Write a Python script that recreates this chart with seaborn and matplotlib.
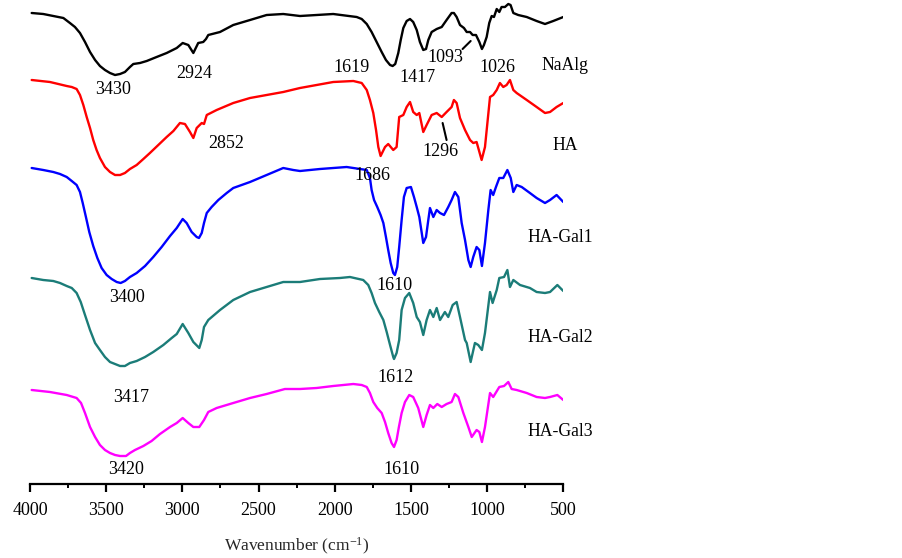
import numpy as np
import pandas as pd
import matplotlib
matplotlib.use("Agg")
import matplotlib.pyplot as plt
import seaborn as sns
from matplotlib.ticker import MultipleLocator

# ---------------- data (wavenumber in cm-1, stacked transmittance a.u.) ----------------
naalg_wn = [3989, 3913, 3847, 3781, 3738, 3705, 3672, 3639, 3606, 3573, 3541, 3508, 3475, 3442,
            3409, 3377, 3344, 3322, 3278, 3234, 3169, 3103, 3037, 2998, 2961, 2928, 2896, 2863,
            2845, 2830, 2753, 2666, 2556, 2447, 2338, 2228, 2119, 2010, 1856, 1823, 1790, 1758,
            1725, 1692, 1664, 1637, 1620, 1603, 1583, 1567, 1550, 1528, 1506, 1485, 1462, 1441,
            1419, 1401, 1386, 1364, 1331, 1298, 1266, 1233, 1218, 1200, 1178, 1152, 1134, 1112,
            1095, 1073, 1051, 1034, 1021, 1003, 986, 970, 955, 937, 920, 905, 883, 861, 846, 828,
            796, 740, 675, 620, 566, 500]
naalg_t = [471, 470, 468, 466, 461, 457, 451, 442, 432, 424, 418, 414, 411, 409,
           410, 412, 417, 420, 421, 423, 427, 431, 436, 441, 439, 431, 441, 442,
           445, 449, 452, 459, 464, 469, 470, 468, 469, 470, 467, 465, 460, 452,
           442, 432, 424, 419, 418, 420, 431, 444, 456, 463, 465, 462, 454, 442,
           434, 435, 444, 452, 455, 457, 464, 471, 471, 467, 459, 456, 452, 452,
           449, 449, 442, 435, 439, 447, 461, 468, 467, 475, 472, 477, 477, 480, 479, 471,
           469, 467, 463, 460, 463, 467]

ha_wn = [3989, 3869, 3759, 3726, 3694, 3672, 3650, 3628, 3606, 3585, 3563, 3541, 3508, 3475,
         3442, 3409, 3377, 3344, 3300, 3256, 3213, 3158, 3103, 3059, 3016, 2983, 2950, 2928,
         2906, 2873, 2858, 2840, 2775, 2666, 2556, 2447, 2338, 2228, 2119, 2010, 1878, 1823,
         1790, 1769, 1747, 1729, 1714, 1699, 1670, 1649, 1616, 1594, 1577, 1550, 1528, 1506,
         1485, 1462, 1445, 1419, 1397, 1364, 1331, 1298, 1266, 1233, 1218, 1200, 1178, 1145,
         1112, 1091, 1069, 1036, 1014, 981, 960, 937, 916, 894, 872, 850, 828, 806, 740, 675,
         620, 587, 544, 500]
ha_t = [404, 402, 398, 397, 395, 389, 379, 367, 356, 344, 334, 326, 317, 312,
        309, 309, 311, 315, 319, 325, 331, 339, 347, 353, 361, 360, 352, 346,
        356, 361, 360, 369, 374, 381, 386, 389, 392, 396, 399, 402, 403, 401,
        394, 384, 371, 354, 337, 328, 337, 340, 334, 337, 367, 369, 377, 382,
        372, 369, 371, 352, 359, 369, 371, 367, 372, 377, 384, 381, 366, 354,
        344, 341, 342, 324, 337, 387, 389, 394, 401, 397, 399, 404, 394, 391, 384, 377,
        371, 372, 377, 381]

gal1_wn = [3989, 3913, 3847, 3803, 3759, 3726, 3694, 3672, 3654, 3633, 3611, 3585, 3558, 3530,
           3497, 3464, 3431, 3405, 3377, 3344, 3300, 3245, 3191, 3136, 3081, 3037, 2998, 2972,
           2939, 2906, 2891, 2873, 2858, 2840, 2808, 2764, 2709, 2666, 2556, 2447, 2338, 2272,
           2228, 2097, 1922, 1790, 1769, 1758, 1742, 1721, 1699, 1681, 1664, 1649, 1633, 1616,
           1605, 1590, 1577, 1561, 1546, 1528, 1500, 1480, 1462, 1445, 1429, 1419, 1401, 1386,
           1375, 1353, 1331, 1309, 1283, 1255, 1233, 1211, 1189, 1167, 1145, 1123, 1108, 1091,
           1069, 1051, 1034, 1014, 992, 977, 960, 942, 920, 894, 867, 845, 828, 806, 773, 719,
           675, 620, 587, 544, 500]
gal1_t = [316, 314, 312, 310, 307, 303, 299, 292, 281, 267, 252, 238, 226, 216,
          209, 205, 202, 201, 203, 207, 211, 218, 227, 237, 248, 256, 265, 261,
          252, 247, 246, 251, 261, 271, 277, 284, 291, 296, 302, 309, 316, 314,
          313, 315, 317, 314, 306, 294, 284, 277, 269, 261, 247, 234, 221, 211,
          209, 217, 237, 264, 287, 296, 297, 287, 277, 267, 251, 241, 247, 264,
          276, 267, 274, 271, 269, 277, 284, 292, 287, 261, 244, 224, 217, 227,
          237, 234, 218, 241, 274, 294, 289, 297, 306, 306, 314, 306, 292, 299, 297, 291,
          286, 281, 284, 289, 282]

gal2_wn = [3989, 3913, 3847, 3803, 3759, 3726, 3694, 3667, 3639, 3606, 3573, 3541, 3508, 3475,
           3442, 3409, 3377, 3344, 3300, 3245, 3191, 3125, 3070, 3037, 2998, 2961, 2928, 2889,
           2873, 2858, 2830, 2753, 2666, 2556, 2447, 2338, 2228, 2097, 1966, 1900, 1813, 1780,
           1758, 1736, 1708, 1681, 1659, 1637, 1616, 1611, 1594, 1577, 1561, 1539, 1511, 1485,
           1462, 1441, 1419, 1397, 1375, 1353, 1331, 1309, 1277, 1255, 1226, 1200, 1178, 1145,
           1134, 1108, 1080, 1058, 1034, 1014, 981, 964, 937, 920, 889, 867, 850, 828, 784, 719,
           675, 620, 587, 539, 500]
gal2_t = [206, 204, 203, 201, 198, 196, 191, 182, 169, 154, 141, 134, 127, 122,
          120, 118, 118, 121, 123, 127, 132, 139, 146, 150, 160, 151, 142, 136,
          144, 157, 164, 174, 184, 192, 197, 202, 202, 205, 206, 207, 204, 199,
          191, 181, 172, 164, 152, 139, 127, 125, 131, 144, 174, 186, 191, 181,
          167, 162, 149, 164, 174, 167, 176, 164, 172, 167, 179, 182, 167, 144,
          141, 122, 141, 139, 134, 151, 192, 181, 194, 206, 207, 214, 197, 204, 199, 196,
          192, 191, 192, 199, 193]

gal3_wn = [3989, 3869, 3759, 3694, 3665, 3639, 3606, 3573, 3541, 3508, 3475, 3442, 3409, 3370,
           3344, 3311, 3256, 3202, 3147, 3081, 3037, 2998, 2961, 2928, 2889, 2858, 2830, 2775,
           2666, 2556, 2447, 2327, 2228, 2119, 2010, 1878, 1823, 1790, 1769, 1747, 1721, 1692,
           1670, 1649, 1627, 1611, 1594, 1579, 1561, 1539, 1511, 1485, 1452, 1419, 1397, 1375,
           1353, 1327, 1298, 1266, 1233, 1211, 1189, 1156, 1123, 1101, 1069, 1051, 1034, 1014,
           981, 960, 920, 889, 861, 839, 806, 740, 675, 620, 587, 539, 500]
gal3_t = [94, 92, 89, 86, 81, 71, 57, 47, 39, 34, 31, 29, 28, 28,
          31, 34, 38, 43, 50, 57, 61, 66, 61, 57, 57, 64, 72, 76,
          81, 86, 90, 95, 95, 96, 98, 100, 99, 97, 91, 82, 76, 71,
          62, 51, 41, 37, 44, 57, 71, 82, 89, 87, 76, 57, 69, 79,
          76, 80, 77, 80, 82, 90, 87, 71, 57, 47, 54, 52, 42, 57,
          91, 87, 97, 98, 102, 95, 94, 91, 87, 86, 87, 89, 84]

samples = ["NaAlg", "HA", "HA-Gal1", "HA-Gal2", "HA-Gal3"]
colors = ["#000000", "#FF0000", "#0000FF", "#1B7C78", "#FF00FF"]
x_ticks = [4000, 3500, 3000, 2500, 2000, 1500, 1000, 500]

# peak annotations: (text, wavenumber position, level)
peak_labels = [("3430", 3455, 394), ("2924", 2924, 410), ("1619", 1887, 417), ("1417", 1460, 406),
               ("1093", 1277, 427), ("1026", 935, 417),
               ("2852", 2714, 341), ("1296", 1309, 332), ("1686", 1756, 309),
               ("3400", 3363, 187), ("1610", 1605, 198),
               ("3417", 3337, 86), ("1612", 1598, 106),
               ("3420", 3370, 15), ("1610", 1565, 15)]
name_labels = [("NaAlg", 640, 419), ("HA", 574, 339), ("HA-Gal1", 732, 247),
               ("HA-Gal2", 732, 147), ("HA-Gal3", 732, 52)]
leader_lines = [([1161, 1108], [435, 443]), ([1292, 1266], [361, 344])]

# ---------------- build frame ----------------
frames = []
for name, wn, t in zip(samples,
                       [naalg_wn, ha_wn, gal1_wn, gal2_wn, gal3_wn],
                       [naalg_t, ha_t, gal1_t, gal2_t, gal3_t]):
    frames.append(pd.DataFrame({"wn": wn, "t": t, "sample": name}))
df = pd.concat(frames, ignore_index=True)

# ---------------- plot ----------------
sns.set_style("white")
plt.rcParams["font.family"] = ["Liberation Serif", "DejaVu Serif"]
plt.rcParams["mathtext.fontset"] = "custom"
plt.rcParams["mathtext.rm"] = "Liberation Serif"
plt.rcParams["mathtext.it"] = "Liberation Serif:italic"

fig = plt.figure(figsize=(9.03, 5.58), dpi=100)
ax = fig.add_axes([30 / 903, 74 / 558, 533.3 / 903, 484 / 558])

sns.lineplot(data=df, x="wn", y="t", hue="sample", palette=dict(zip(samples, colors)),
             estimator=None, sort=False, legend=False, linewidth=1.7, ax=ax)
for line in ax.lines:
    line.set_solid_joinstyle("round")

ax.set_xlim(4000, 500)
ax.set_ylim(0, 484)
ax.set_xticks(x_ticks)
ax.set_xticklabels([str(v) for v in x_ticks])
ax.xaxis.set_minor_locator(MultipleLocator(250))
ax.set_yticks([])
ax.set_ylabel("")
for s in ["left", "top", "right"]:
    ax.spines[s].set_visible(False)
ax.spines["bottom"].set_linewidth(1.6)
ax.spines["bottom"].set_color("black")
ax.tick_params(axis="x", which="major", direction="out", length=6, width=1.6,
               labelsize=13, pad=7, colors="black", bottom=True)
ax.tick_params(axis="x", which="minor", direction="out", length=3, width=1.4,
               colors="black", bottom=True)
ax.set_xlabel(r"Wavenumber (cm$^{\mathrm{-1}}$)", fontsize=12.5, labelpad=12)

for txt, xw, yv in peak_labels:
    ax.text(xw, yv, txt, ha="center", va="center", fontsize=13, color="black")
for txt, xw, yv in name_labels:
    ax.text(xw, yv, txt, ha="left", va="center", fontsize=12.7, color="black", clip_on=False)
for xs, ys in leader_lines:
    ax.plot(xs, ys, color="black", linewidth=1.5)

fig.savefig("out.png", dpi=100)
